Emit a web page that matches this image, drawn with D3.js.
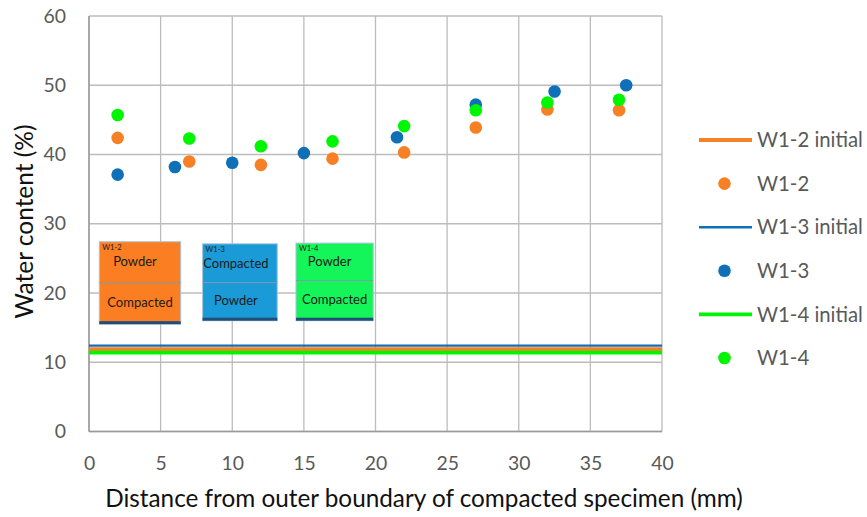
<!DOCTYPE html>
<html>
<head>
<meta charset="utf-8">
<script src="https://cdn.jsdelivr.net/npm/d3@7"></script>
<style>
  html, body { margin: 0; padding: 0; background: #fff; }
  svg { display: block; font-family: Lato, "Open Sans", sans-serif; }
</style>
</head>
<body>
<svg id="chart" width="867" height="517"></svg>
<script>
// Tick values
const xTicks = [0, 5, 10, 15, 20, 25, 30, 35, 40];
const yTicks = [0, 10, 20, 30, 40, 50, 60];

// Initial water content of each specimen (%)
const initialW12 = 11.9;
const initialW13 = 12.4;
const initialW14 = 11.4;

// Measured water content profiles: distance (mm) and water content (%)
const w12X = [2, 7, 12, 17, 22, 27, 32, 37];
const w12Y = [42.4, 39.0, 38.5, 39.4, 40.3, 43.9, 46.5, 46.4];

const w13X = [2, 6, 10, 15, 21.5, 27, 32.5, 37.5];
const w13Y = [37.1, 38.2, 38.8, 40.2, 42.5, 47.2, 49.1, 50.0];

const w14X = [2, 7, 12, 17, 22, 27, 32, 37];
const w14Y = [45.7, 42.3, 41.2, 41.9, 44.1, 46.4, 47.5, 47.9];

const seriesNames = ["W1-2 initial", "W1-2", "W1-3 initial", "W1-3", "W1-4 initial", "W1-4"];

const COL_ORANGE = "#f58025";
const COL_BLUE = "#0f70b7";
const COL_GREEN = "#00f500";

const svg = d3.select("#chart");
const W = 867, H = 517;
const plot = { left: 89, right: 662, top: 16, bottom: 431.5 };

const x = d3.scaleLinear().domain([0, 40]).range([plot.left, plot.right]);
const y = d3.scaleLinear().domain([0, 60]).range([plot.bottom, plot.top]);

// Pick a font size so that a sample string renders at the wanted width
function fitSize(sample, width) {
  const probe = svg.append("text").attr("font-size", 20).text(sample);
  const w = probe.node().getComputedTextLength();
  probe.remove();
  return 20 * width / w;
}
const tickSize = fitSize("10", 22.5);
const legendSize = fitSize("W1-2 initial", 106);
const xTitleSize = fitSize("Distance from outer boundary of compacted specimen (mm)", 638);
const yTitleSize = fitSize("Water content (%)", 194);

svg.append("rect").attr("width", W).attr("height", H).attr("fill", "#fff");

// Gridlines
const grid = svg.append("g").attr("class", "grid");
grid.selectAll("line.v").data(xTicks).join("line")
  .attr("class", "v")
  .attr("x1", d => x(d)).attr("x2", d => x(d))
  .attr("y1", plot.top).attr("y2", plot.bottom)
  .attr("stroke", "#bcbcbc").attr("stroke-width", 1.3);
grid.selectAll("line.h").data(yTicks).join("line")
  .attr("class", "h")
  .attr("x1", plot.left).attr("x2", plot.right)
  .attr("y1", d => y(d)).attr("y2", d => y(d))
  .attr("stroke", "#bcbcbc").attr("stroke-width", 1.3);

// Axes (labels only, lines drawn separately)
const xAxis = svg.append("g")
  .attr("transform", `translate(0,${plot.bottom})`)
  .call(d3.axisBottom(x).tickValues(xTicks).tickSize(0).tickPadding(0));
const yAxis = svg.append("g")
  .attr("transform", `translate(${plot.left},0)`)
  .call(d3.axisLeft(y).tickValues(yTicks).tickSize(0).tickPadding(23));
[xAxis, yAxis].forEach(a => {
  a.select(".domain").remove();
  a.selectAll("text").attr("font-family", "Lato, sans-serif")
    .attr("font-size", tickSize).attr("fill", "#595959");
});
xAxis.selectAll("text").attr("y", 38).attr("dy", 0);

svg.append("line")
  .attr("x1", plot.left).attr("x2", plot.left)
  .attr("y1", plot.top).attr("y2", plot.bottom)
  .attr("stroke", "#9a9a9a").attr("stroke-width", 1.5);
svg.append("line")
  .attr("x1", plot.left).attr("x2", plot.right)
  .attr("y1", plot.bottom).attr("y2", plot.bottom)
  .attr("stroke", "#9a9a9a").attr("stroke-width", 1.5);

// Axis titles
svg.append("text")
  .attr("x", 424).attr("y", 507)
  .attr("text-anchor", "middle")
  .attr("font-size", xTitleSize).attr("fill", "#111")
  .text("Distance from outer boundary of compacted specimen (mm)");
svg.append("text")
  .attr("transform", "translate(33,221.5) rotate(-90)")
  .attr("text-anchor", "middle")
  .attr("font-size", yTitleSize).attr("fill", "#111")
  .text("Water content (%)");

// Specimen sketches inside the plot
const sketches = [
  { id: "W1-2", fill: "#fb7e22", x0: 0.72, x1: 6.4, yTop: 27.4, yMid: 21.5, yBot: 15.5, top: "Powder", bottom: "Compacted", topDx: -5, botDx: 0 },
  { id: "W1-3", fill: "#1a9ad7", x0: 7.93, x1: 13.14, yTop: 27.1, yMid: 21.5, yBot: 16.0, top: "Compacted", bottom: "Powder", topDx: -4, botDx: -4 },
  { id: "W1-4", fill: "#14f55a", x0: 14.45, x1: 19.84, yTop: 27.2, yMid: 21.8, yBot: 16.0, top: "Powder", bottom: "Compacted", topDx: -5, botDx: 0 }
];
const sk = svg.append("g").attr("class", "sketches");
sketches.forEach(s => {
  const g = sk.append("g");
  const L = x(s.x0), R = x(s.x1), T = y(s.yTop), B = y(s.yBot), M = y(s.yMid);
  g.append("rect").attr("x", L).attr("y", T).attr("width", R - L).attr("height", B - T)
    .attr("fill", s.fill).attr("stroke", "#a9c2d6").attr("stroke-width", 1);
  g.append("line").attr("x1", L).attr("x2", R).attr("y1", M).attr("y2", M)
    .attr("stroke", "#7f9bb0").attr("stroke-width", 1);
  g.append("rect").attr("x", L).attr("y", B - 3).attr("width", R - L).attr("height", 3)
    .attr("fill", "#1f4e79");
  g.append("text").attr("x", L + 3).attr("y", T + 8)
    .attr("font-size", 7.5).attr("fill", "#222").text(s.id);
  g.append("text").attr("x", (L + R) / 2 + s.topDx).attr("y", (T + M) / 2 + 1)
    .attr("text-anchor", "middle").attr("dominant-baseline", "middle")
    .attr("font-size", 13).attr("fill", "#1a1a1a").text(s.top);
  g.append("text").attr("x", (L + R) / 2 + s.botDx).attr("y", (M + B) / 2)
    .attr("text-anchor", "middle").attr("dominant-baseline", "middle")
    .attr("font-size", 13).attr("fill", "#1a1a1a").text(s.bottom);
});

// Initial water content lines
const initLines = [
  { v: initialW12, color: COL_ORANGE, w: 3.8 },
  { v: initialW13, color: COL_BLUE, w: 2.2 },
  { v: initialW14, color: COL_GREEN, w: 3.8 }
];
svg.append("g").selectAll("line").data(initLines).join("line")
  .attr("x1", x(0)).attr("x2", x(40))
  .attr("y1", d => y(d.v)).attr("y2", d => y(d.v))
  .attr("stroke", d => d.color).attr("stroke-width", d => d.w);

// Measured points
const pointSets = [
  { xs: w12X, ys: w12Y, color: COL_ORANGE },
  { xs: w13X, ys: w13Y, color: COL_BLUE },
  { xs: w14X, ys: w14Y, color: COL_GREEN }
];
pointSets.forEach(p => {
  svg.append("g").selectAll("circle").data(p.xs.map((v, i) => [v, p.ys[i]])).join("circle")
    .attr("cx", d => x(d[0])).attr("cy", d => y(d[1])).attr("r", 6.3)
    .attr("fill", p.color);
});

// Legend
const legendItems = [
  { name: seriesNames[0], color: COL_ORANGE, type: "line", w: 4 },
  { name: seriesNames[1], color: COL_ORANGE, type: "dot" },
  { name: seriesNames[2], color: COL_BLUE, type: "line", w: 2.4 },
  { name: seriesNames[3], color: COL_BLUE, type: "dot" },
  { name: seriesNames[4], color: COL_GREEN, type: "line", w: 3.6 },
  { name: seriesNames[5], color: COL_GREEN, type: "dot" }
];
const legend = svg.append("g").attr("class", "legend");
legendItems.forEach((d, i) => {
  const cy = 140 + i * 43.6;
  const g = legend.append("g").attr("transform", `translate(0,${cy})`);
  if (d.type === "line") {
    g.append("line").attr("x1", 699).attr("x2", 752).attr("y1", 0).attr("y2", 0)
      .attr("stroke", d.color).attr("stroke-width", d.w);
  } else {
    g.append("circle").attr("cx", 724.5).attr("cy", 0).attr("r", 6.3).attr("fill", d.color);
  }
  g.append("text").attr("x", 757).attr("y", 0).attr("dy", "0.35em")
    .attr("font-size", legendSize).attr("fill", "#595959").text(d.name);
});
</script>
</body>
</html>
